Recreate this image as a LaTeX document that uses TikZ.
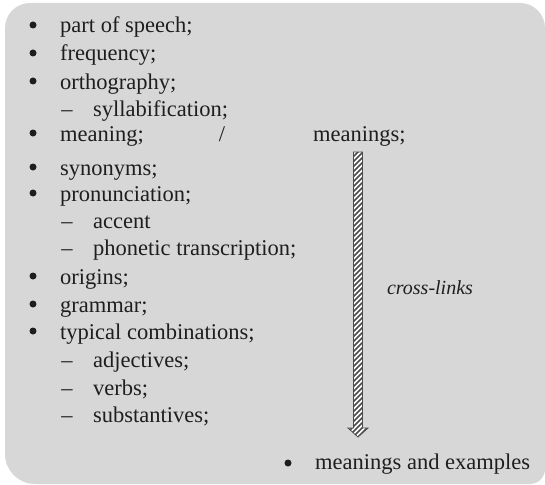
\documentclass[tikz,border=0pt]{standalone}
\usepackage{fontspec}
\setmainfont{Liberation Serif}
\usetikzlibrary{calc}
\definecolor{bgc}{RGB}{215,215,215}
\definecolor{txt}{RGB}{30,30,30}
\definecolor{edgec}{RGB}{75,75,75}
\begin{document}
\begin{tikzpicture}[x=1pt,y=1pt,
  itxt/.style={anchor=base west, text=txt, inner sep=0pt, font=\fontsize{22.5}{27}\selectfont},
  ctxt/.style={anchor=base, text=txt, inner sep=0pt, font=\fontsize{22.5}{27}\selectfont},
  bul/.style={circle, fill=txt, inner sep=0pt, minimum size=7pt},
  linklabel/.style={anchor=base, text=txt, inner sep=0pt, font=\fontsize{20}{24}\selectfont\itshape},
]
\useasboundingbox (0,0) rectangle (545,-484);
% background panel
\fill[bgc] (5,-28) arc[start angle=180, end angle=90, radius=25] -- (520,-3)
  arc[start angle=90, end angle=0, radius=25] -- (545,-469)
  arc[start angle=0, end angle=-90, radius=15] -- (35,-484)
  arc[start angle=270, end angle=180, radius=30] -- cycle;

% main bullets
\node[bul] (b1) at (33,-25) {};   \node[itxt] (t1) at (60,-33) {part of speech;};
\node[bul] (b2) at (33,-53) {};   \node[itxt] (t2) at (60,-61) {frequency;};
\node[bul] (b3) at (33,-81) {};   \node[itxt] (t3) at (60,-89) {orthography;};
\node[ctxt] (d1) at (67,-116) {–}; \node[itxt] (s1) at (93,-116) {syllabification;};
\node[bul] (b4) at (33,-133) {};  \node[itxt] (t4) at (60,-141) {meaning;};
\node[ctxt] (sl) at (222,-141) {/};
\node[itxt] (mn) at (313,-141) {meanings;};
\node[bul] (b5) at (33,-167) {};  \node[itxt] (t5) at (60,-175) {synonyms;};
\node[bul] (b6) at (33,-193) {};  \node[itxt] (t6) at (60,-201) {pronunciation;};
\node[ctxt] (d2) at (67,-228) {–}; \node[itxt] (s2) at (93,-228) {accent};
\node[ctxt] (d3) at (67,-255) {–}; \node[itxt] (s3) at (93,-255) {phonetic transcription;};
\node[bul] (b7) at (33,-276) {};  \node[itxt] (t7) at (60,-284) {origins;};
\node[bul] (b8) at (33,-304) {};  \node[itxt] (t8) at (60,-312) {grammar;};
\node[bul] (b9) at (33,-331) {};  \node[itxt] (t9) at (60,-339) {typical combinations;};
\node[ctxt] (d4) at (67,-367) {–}; \node[itxt] (s4) at (93,-367) {adjectives;};
\node[ctxt] (d5) at (67,-395) {–}; \node[itxt] (s5) at (93,-395) {verbs;};
\node[ctxt] (d6) at (67,-422) {–}; \node[itxt] (s6) at (93,-422) {substantives;};

\node[bul] (b10) at (288,-463) {}; \node[itxt] (me) at (315,-469) {meanings and examples};

\node[linklabel] (cl) at (430,-294) {cross-links};

% hatched arrow
\coordinate (at) at (358,-152);
\coordinate (ab) at (358,-437);
\def\arrowpath{($(at)+(-4.5,0)$) -- ($(at)+(4.5,0)$) -- ($(ab)+(4.5,9)$) -- ($(ab)+(10,9)$) -- (ab) -- ($(ab)+(-10,9)$) -- ($(ab)+(-4.5,9)$) -- cycle}
\fill[white] \arrowpath;
\begin{scope}
  \clip \arrowpath;
  \foreach \i in {0,...,62} {
    \draw[edgec, line width=1.7pt] (340,-160-\i*5) -- ++(30,30);
  }
\end{scope}
\draw[edgec, line width=0.8pt, line join=miter] \arrowpath;
\end{tikzpicture}
\end{document}
